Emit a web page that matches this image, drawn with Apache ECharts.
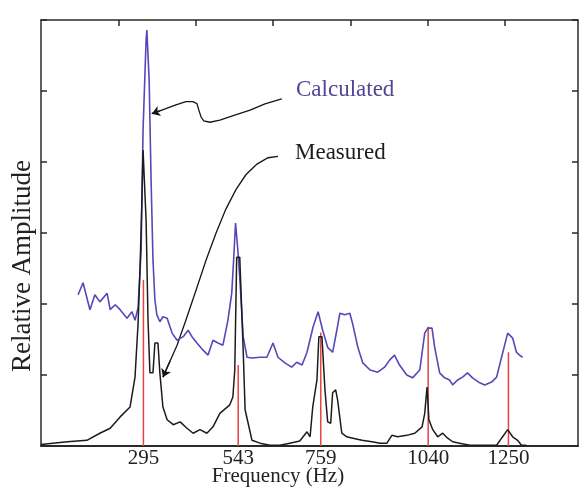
<!DOCTYPE html>
<html>
<head>
<meta charset="utf-8">
<script src="https://cdn.jsdelivr.net/npm/echarts@6.0.0/dist/echarts.min.js"></script>
<style>
    html, body { margin: 0; padding: 0; background: #fff; }
    #container { width: 584px; height: 491px; }
</style>
</head>
<body>
<div id="container"></div>
<script type="text/javascript">
    // calculated spectrum (Hz, relative amplitude)
    var calcFreq = [124, 137, 155, 168, 181, 200, 208, 221, 234, 252, 265, 273, 281, 289, 294, 302, 304, 310, 315, 320,
        325, 330, 338, 346, 357, 370, 383, 399, 412, 422, 435, 451, 464, 477, 490, 503, 516, 526, 531, 536,
        542, 547, 556, 566, 579, 600, 618, 634, 647, 665, 683, 696, 710, 723, 739, 752, 764, 777, 790, 801,
        809, 822, 835, 842, 856, 869, 888, 908, 926, 939, 952, 965, 984, 999, 1018, 1031, 1039, 1050, 1057, 1070,
        1083, 1096, 1104, 1117, 1130, 1143, 1156, 1175, 1188, 1206, 1219, 1232, 1248, 1261, 1271, 1279, 1287];
    var calcAmp = [2.13, 2.30, 1.92, 2.13, 2.03, 2.15, 1.92, 1.99, 1.92, 1.80, 1.89, 1.77, 1.95, 2.76, 4.45, 5.72, 5.86, 5.15, 3.75, 2.62,
        2.06, 1.85, 1.75, 1.82, 1.80, 1.59, 1.49, 1.54, 1.63, 1.54, 1.45, 1.35, 1.28, 1.49, 1.45, 1.42, 1.77, 2.15, 2.62, 3.14,
        2.76, 2.38, 1.54, 1.25, 1.24, 1.25, 1.25, 1.45, 1.25, 1.17, 1.11, 1.18, 1.14, 1.32, 1.68, 1.89, 1.63, 1.39, 1.32, 1.63,
        1.87, 1.85, 1.87, 1.73, 1.39, 1.17, 1.07, 1.04, 1.11, 1.21, 1.28, 1.14, 1.00, 0.96, 1.07, 1.59, 1.66, 1.66, 1.39, 1.03,
        0.96, 0.93, 0.86, 0.93, 0.97, 1.03, 0.96, 0.89, 0.86, 0.90, 0.97, 1.25, 1.59, 1.52, 1.32, 1.28, 1.25];

    // measured spectrum
    var measFreq = [27, 58, 96, 147, 181, 208, 234, 260, 273, 281, 286, 291, 294, 299, 302, 307, 312, 320, 325, 333,
        338, 346, 357, 373, 391, 409, 425, 443, 461, 477, 495, 508, 521, 529, 534, 539, 547, 556, 561, 569,
        579, 600, 626, 652, 678, 704, 723, 731, 738, 749, 754, 762, 770, 777, 785, 790, 798, 803, 814, 827,
        843, 867, 893, 914, 932, 945, 960, 984, 1005, 1024, 1031, 1037, 1042, 1052, 1065, 1078, 1091, 1104, 1122, 1149,
        1193, 1219, 1232, 1248, 1261, 1274, 1284, 1297];
    var measAmp = [0.02, 0.04, 0.06, 0.08, 0.18, 0.25, 0.41, 0.55, 0.97, 1.73, 2.48, 3.46, 4.17, 4.17, 3.18, 1.77, 1.03, 1.03, 1.45, 1.45,
        1.03, 0.55, 0.37, 0.30, 0.34, 0.25, 0.18, 0.23, 0.18, 0.27, 0.46, 0.52, 0.58, 0.69, 1.07, 2.66, 2.66, 1.35, 0.51, 0.32,
        0.08, 0.04, 0.01, 0.01, 0.04, 0.07, 0.20, 0.13, 0.55, 0.93, 1.54, 1.54, 0.79, 0.34, 0.32, 0.75, 0.79, 0.65, 0.18, 0.13,
        0.11, 0.08, 0.06, 0.04, 0.04, 0.15, 0.13, 0.15, 0.18, 0.27, 0.46, 0.83, 0.37, 0.23, 0.13, 0.18, 0.11, 0.06, 0.04, 0.01,
        0.01, 0.01, 0.11, 0.23, 0.13, 0.08, 0.01, 0.01];

    // natural frequencies (red markers) and tick labels
    var modeFreq = [295, 543, 759, 1040, 1250];
    var modeHeight = [2.34, 1.14, 1.60, 1.68, 1.32];
    var tickValues = [295, 543, 759, 1040, 1250];
    var topTicks = [200, 400, 600, 800, 1000, 1200];

    // leader lines for the annotations
    var calcArrow = [[657, 4.89], [613, 4.82], [574, 4.73], [534, 4.66], [495, 4.59], [469, 4.56], [453, 4.58], [446, 4.63],
        [440, 4.73], [435, 4.82], [425, 4.85], [406, 4.85], [378, 4.80], [338, 4.72], [317, 4.68]];
    var measArrow = [[647, 4.08], [621, 4.06], [592, 3.97], [563, 3.82], [537, 3.61], [511, 3.34], [485, 3.00], [459, 2.62],
        [433, 2.20], [406, 1.77], [383, 1.42], [365, 1.20], [346, 0.97]];

    function pairs(xs, ys) {
        return xs.map(function (x, i) { return [x, ys[i]]; });
    }
    // last segment of a leader, used to carry the arrow head
    function tip(pts) {
        return { coords: pts.slice(pts.length - 2) };
    }

    var serif = 'Liberation Serif';
    var axisCol = '#2a2a2a';
    function boxLine() {
        return { show: true, onZero: false, lineStyle: { color: axisCol, width: 1.5 } };
    }
    function inTick(values) {
        var t = { show: true, inside: true, length: 6, lineStyle: { color: axisCol, width: 1.5 } };
        if (values) t.customValues = values;
        return t;
    }
    // labels kept on (ticks follow them) but painted transparent
    function ghostLabels(values) {
        var l = { show: true, fontSize: 8, color: 'rgba(0,0,0,0)' };
        if (values) l.customValues = values;
        return l;
    }

    var myChart = echarts.init(document.getElementById('container'));
    var option = {
        animation: false,
        backgroundColor: '#ffffff',
        grid: { left: 41, top: 20, width: 537, height: 426, containLabel: false, outerBoundsMode: 'none' },
        xAxis: [{
            type: 'value',
            position: 'bottom',
            min: 27,
            max: 1432,
            axisLine: { show: true, onZero: false, lineStyle: { color: axisCol, width: 2 } },
            axisTick: { show: false },
            splitLine: { show: false },
            axisLabel: {
                customValues: tickValues,
                formatter: function (v) { return String(v); },
                fontFamily: serif,
                fontSize: 21,
                color: '#222',
                margin: 2
            },
            name: 'Frequency (Hz)',
            nameLocation: 'middle',
            nameGap: 20,
            nameMoveOverlap: false,
            nameTextStyle: { fontFamily: serif, fontSize: 21, color: '#222', padding: [0, 63, 0, 0] }
        }, {
            type: 'value',
            position: 'top',
            min: 0,
            max: 1389,
            axisLine: boxLine(),
            axisTick: inTick(topTicks),
            axisLabel: ghostLabels(topTicks),
            splitLine: { show: false }
        }],
        yAxis: [{
            type: 'value',
            position: 'left',
            min: 0,
            max: 6,
            interval: 1,
            axisLine: boxLine(),
            axisTick: inTick(),
            axisLabel: { show: false },
            splitLine: { show: false },
            name: 'Relative Amplitude',
            nameLocation: 'middle',
            nameGap: 5,
            nameMoveOverlap: false,
            nameTextStyle: { fontFamily: serif, fontSize: 27, color: '#222', padding: [0, 66, 0, 0] }
        }, {
            type: 'value',
            position: 'right',
            min: 0,
            max: 6,
            interval: 1,
            axisLine: boxLine(),
            axisTick: inTick(),
            axisLabel: { show: false },
            splitLine: { show: false }
        }],
        series: [{
            name: 'Modes',
            type: 'bar',
            barWidth: 1.5,
            itemStyle: { color: '#e2463f' },
            data: pairs(modeFreq, modeHeight)
        }, {
            name: 'Calculated',
            type: 'line',
            showSymbol: false,
            lineStyle: { color: '#5548b8', width: 1.6 },
            data: pairs(calcFreq, calcAmp)
        }, {
            name: 'Measured',
            type: 'line',
            showSymbol: false,
            lineStyle: { color: '#1c1c1c', width: 1.5 },
            data: pairs(measFreq, measAmp)
        }, {
            type: 'lines',
            coordinateSystem: 'cartesian2d',
            polyline: true,
            lineStyle: { color: '#151515', width: 1.3, opacity: 1 },
            data: [{ coords: calcArrow }, { coords: measArrow }]
        }, {
            type: 'lines',
            coordinateSystem: 'cartesian2d',
            symbol: ['none', 'arrow'],
            symbolSize: 8,
            lineStyle: { color: '#151515', width: 1.3, opacity: 1 },
            data: [tip(calcArrow), tip(measArrow)]
        }],
        graphic: [{
            type: 'text',
            left: 296,
            top: 78,
            style: { text: 'Calculated', fill: '#4f4796', font: '23px "Liberation Serif"' }
        }, {
            type: 'text',
            left: 295,
            top: 141,
            style: { text: 'Measured', fill: '#1c1c1c', font: '23px "Liberation Serif"' }
        }]
    };
    myChart.setOption(option);
</script>
</body>
</html>
